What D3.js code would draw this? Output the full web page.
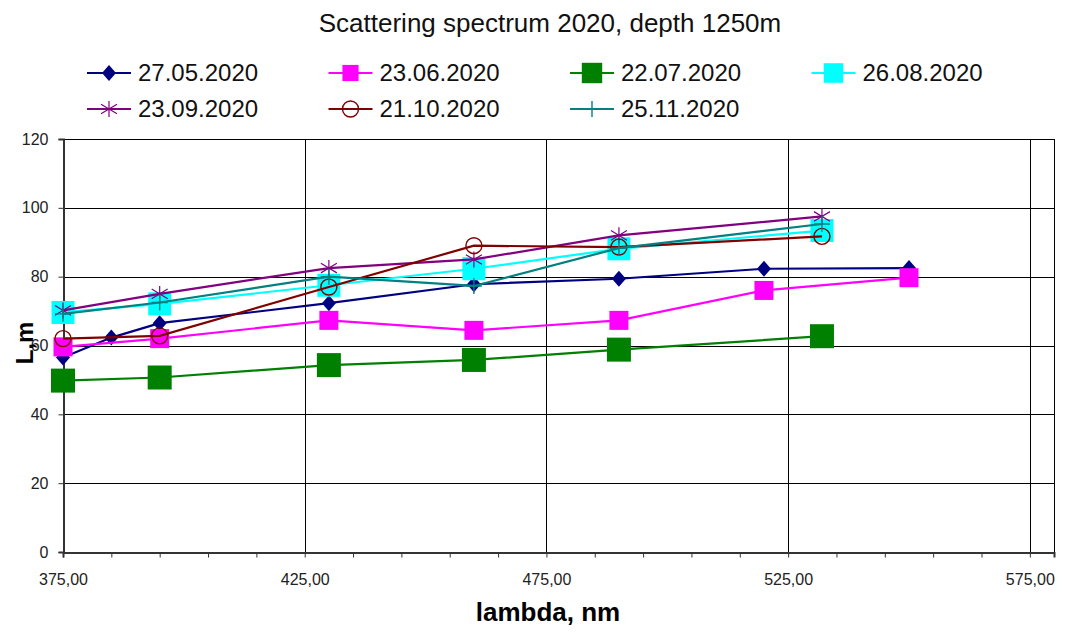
<!DOCTYPE html>
<html>
<head>
<meta charset="utf-8">
<script src="https://cdn.jsdelivr.net/npm/d3@7"></script>
<style>
  body { margin: 0; background: #fff; }
  svg { font-family: "Liberation Sans", Arial, sans-serif; }
</style>
</head>
<body>
<div id="chart"></div>
<script>
// wavelengths, nm
var lambdaMay = [375, 385, 395, 430, 460, 490, 520, 550]
var lambdaJun = [375, 395, 430, 460, 490, 520, 550]
var lambdaRest = [375, 395, 430, 460, 490, 532]

var seriesNames = ['27.05.2020', '23.06.2020', '22.07.2020', '26.08.2020', '23.09.2020', '21.10.2020', '25.11.2020']

// L, m
var v2705 = [56.5, 62.3, 66.5, 72.3, 77.8, 79.4, 82.3, 82.5]
var v2306 = [59.6, 62.0, 67.3, 64.4, 67.3, 76.0, 79.7]
var v2207 = [49.8, 50.7, 54.3, 55.8, 58.8, 62.7]
var v2608 = [69.6, 72.1, 77.5, 82.3, 88.1, 93.4]
var v2309 = [70.2, 75.0, 82.5, 85.0, 92.0, 97.5]
var v2110 = [62.0, 62.8, 77.0, 89.0, 88.6, 91.7]
var v2511 = [69.2, 72.5, 80.0, 77.3, 88.3, 95.3]

var xTicks = [375, 425, 475, 525, 575]
var yTicks = [0, 20, 40, 60, 80, 100, 120]

var allX = [lambdaMay, lambdaJun, lambdaRest, lambdaRest, lambdaRest, lambdaRest, lambdaRest]
var allY = [v2705, v2306, v2207, v2608, v2309, v2110, v2511]

// look of each series (Excel default palette)
var looks = [
  {color: '#000080', marker: 'diamond'},
  {color: '#ff00ff', marker: 'square', size: 19},
  {color: '#008000', marker: 'square', size: 24},
  {color: '#00ffff', marker: 'square', size: 23},
  {color: '#800080', marker: 'star'},
  {color: '#800000', marker: 'circle'},
  {color: '#008080', marker: 'plus'}
]

var W = 1066, H = 634
var svg = d3.select('#chart').append('svg')
  .attr('width', W)
  .attr('height', H)

var x = d3.scaleLinear().domain([375, 580]).range([63, 1054])
var y = d3.scaleLinear().domain([0, 120]).range([552, 139])

// title
svg.append('text')
  .attr('x', 550).attr('y', 32)
  .attr('text-anchor', 'middle')
  .attr('font-size', 26)
  .attr('fill', '#111')
  .text('Scattering spectrum 2020, depth 1250m')

// grid
var grid = svg.append('g')
grid.selectAll('.hg').data(yTicks).enter().append('line')
  .attr('x1', x(375)).attr('x2', x(580))
  .attr('y1', function(d) { return Math.round(y(d)) + 0.5 })
  .attr('y2', function(d) { return Math.round(y(d)) + 0.5 })
  .attr('stroke', '#000').attr('stroke-width', 1)
grid.selectAll('.vg').data(xTicks).enter().append('line')
  .attr('y1', y(0)).attr('y2', y(120))
  .attr('x1', function(d) { return Math.round(x(d)) + 0.5 })
  .attr('x2', function(d) { return Math.round(x(d)) + 0.5 })
  .attr('stroke', '#000').attr('stroke-width', 1)
// right border of plot area
grid.append('line')
  .attr('x1', Math.round(x(580)) + 0.5).attr('x2', Math.round(x(580)) + 0.5)
  .attr('y1', y(0)).attr('y2', y(120))
  .attr('stroke', '#000')

// x axis
var xAxis = d3.axisBottom(x)
  .tickValues(d3.range(375, 581, 10))
  .tickSize(5)
  .tickFormat(function(d) { return xTicks.indexOf(d) > -1 ? d.toFixed(2).replace('.', ',') : '' })
var gx = svg.append('g')
  .attr('transform', 'translate(0,' + (Math.round(y(0)) + 0.5) + ')')
  .call(xAxis)
gx.select('.domain').attr('stroke', '#333').attr('stroke-width', 2)
gx.selectAll('.tick line').attr('stroke', '#333')
gx.selectAll('.tick text')
  .attr('font-size', 16).attr('fill', '#222').attr('dy', '1.55em')
  .attr('font-family', '"Liberation Sans", Arial, sans-serif')

// y axis
var yAxis = d3.axisLeft(y).tickValues(yTicks).tickSize(5).tickPadding(10)
var gy = svg.append('g')
  .attr('transform', 'translate(' + (Math.round(x(375)) + 0.5) + ',0)')
  .call(yAxis)
gy.select('.domain').attr('stroke', '#333').attr('stroke-width', 2)
gy.selectAll('.tick line').attr('stroke', '#333')
gy.selectAll('.tick text')
  .attr('font-size', 16).attr('fill', '#222')
  .attr('font-family', '"Liberation Sans", Arial, sans-serif')

// axis titles
svg.append('text')
  .attr('x', 548).attr('y', 621)
  .attr('text-anchor', 'middle')
  .attr('font-size', 26).attr('font-weight', 'bold')
  .text('lambda, nm')
svg.append('text')
  .attr('transform', 'translate(33,343) rotate(-90)')
  .attr('text-anchor', 'middle')
  .attr('font-size', 24).attr('font-weight', 'bold')
  .text('L,m')

function drawMarker(g, look, cx, cy) {
  var c = look.color
  if (look.marker == 'diamond') {
    g.append('path')
      .attr('d', 'M' + cx + ',' + (cy - 8) + 'L' + (cx + 7) + ',' + cy + 'L' + cx + ',' + (cy + 8) + 'L' + (cx - 7) + ',' + cy + 'Z')
      .attr('fill', c)
  } else if (look.marker == 'square') {
    var s = look.size
    g.append('rect')
      .attr('x', cx - s / 2).attr('y', cy - s / 2)
      .attr('width', s).attr('height', s)
      .attr('fill', c)
  } else if (look.marker == 'star') {
    var r = 8
    g.append('path')
      .attr('d', 'M' + cx + ',' + (cy - r) + 'V' + (cy + r) +
        'M' + (cx - r) + ',' + (cy - r * 0.6) + 'L' + (cx + r) + ',' + (cy + r * 0.6) +
        'M' + (cx - r) + ',' + (cy + r * 0.6) + 'L' + (cx + r) + ',' + (cy - r * 0.6))
      .attr('stroke', c).attr('stroke-width', 1.2).attr('fill', 'none')
  } else if (look.marker == 'circle') {
    g.append('circle')
      .attr('cx', cx).attr('cy', cy).attr('r', 8)
      .attr('fill', 'none').attr('stroke', c).attr('stroke-width', 1.4)
  } else if (look.marker == 'plus') {
    var p = 8
    g.append('path')
      .attr('d', 'M' + cx + ',' + (cy - p) + 'V' + (cy + p) + 'M' + (cx - p) + ',' + cy + 'H' + (cx + p))
      .attr('stroke', c).attr('stroke-width', 1.4).attr('fill', 'none')
  }
}

// series
var line = d3.line()
  .x(function(d) { return x(d[0]) })
  .y(function(d) { return y(d[1]) })

seriesNames.forEach(function(name, i) {
  var pts = allX[i].map(function(lx, j) { return [lx, allY[i][j]] })
  var g = svg.append('g').attr('class', 'series')
  g.append('path')
    .datum(pts)
    .attr('d', line)
    .attr('fill', 'none')
    .attr('stroke', looks[i].color)
    .attr('stroke-width', 2.2)
  pts.forEach(function(p) {
    drawMarker(g, looks[i], x(p[0]), y(p[1]))
  })
})

// legend, two rows of four columns
var legend = svg.append('g')
seriesNames.forEach(function(name, i) {
  var col = i % 4, row = Math.floor(i / 4)
  var mx = 109 + col * 241.5
  var my = 73 + row * 36
  var li = legend.append('g')
  li.append('line')
    .attr('x1', mx - 22).attr('x2', mx + 22)
    .attr('y1', my).attr('y2', my)
    .attr('stroke', looks[i].color).attr('stroke-width', 2.2)
  var lk = Object.assign({}, looks[i])
  if (lk.size) lk.size = lk.size * 0.85
  drawMarker(li, lk, mx, my)
  li.append('text')
    .attr('x', mx + 29).attr('y', my + 8)
    .attr('font-size', 24).attr('fill', '#111')
    .text(name)
})
</script>
</body>
</html>
